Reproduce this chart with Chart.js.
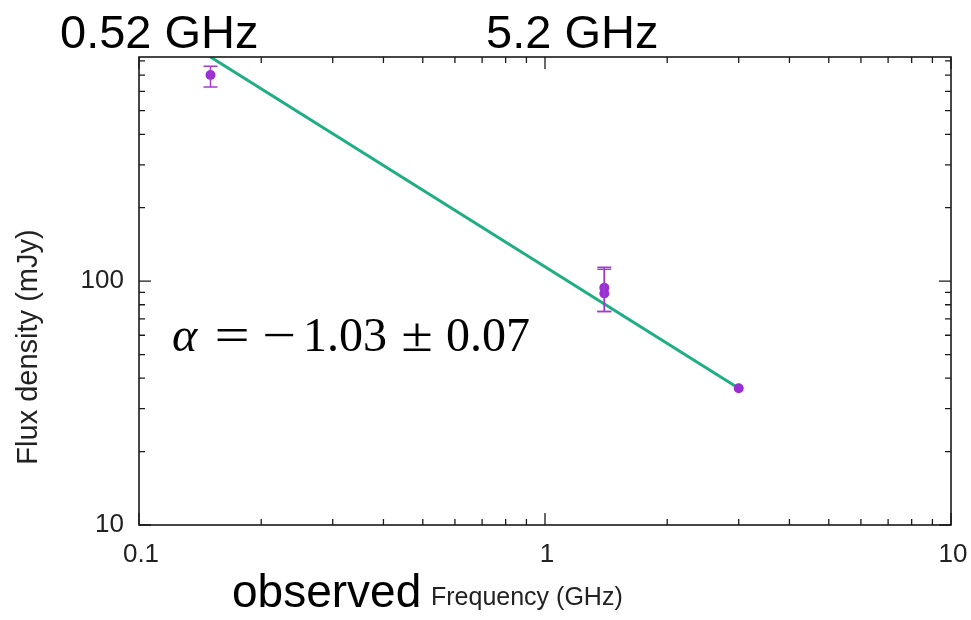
<!DOCTYPE html>
<html>
<head>
<meta charset="utf-8">
<script src="https://cdn.jsdelivr.net/npm/chart.js@4/dist/chart.umd.min.js"></script>
<style>
  html, body { margin: 0; padding: 0; background: #ffffff; }
  #wrap { width: 971px; height: 620px; position: relative; }
</style>
</head>
<body>
<div id="wrap"><canvas id="c" width="971" height="620"></canvas></div>
<script>
// Observed flux densities (GHz, mJy) with their error limits
const freqGHz  = [0.15, 1.4, 1.4, 3.0];
const fluxMJy  = [700, 94, 89, 36.4];
const fluxLow  = [625, 75, 75, 36.4];
const fluxHigh = [760, 114, 112, 36.4];

// Power-law fit, drawn between its two end points
const fitFreq = [0.15, 3.0];
const fitFlux = [830, 36.4];

// Axis ticks
const xMajor = [0.1, 1, 10];
const xMajorLabels = ['0.1', '1', '10'];
const xMinor = [0.2, 0.3, 0.4, 0.5, 0.6, 0.7, 0.8, 0.9, 2, 3, 4, 5, 6, 7, 8, 9];
const yMajor = [10, 100];
const yMajorLabels = ['10', '100'];
const yMinor = [20, 30, 40, 50, 60, 70, 80, 90, 200, 300, 400, 500, 600, 700, 800];

const purple = '#9a2fd8';
const errColor = '#a23ccf';
const green = '#1fae84';

const errorBars = {
  id: 'errorBars',
  afterDatasetsDraw(chart) {
    const { ctx, scales: { x, y } } = chart;
    ctx.save();
    ctx.strokeStyle = errColor;
    ctx.lineWidth = 1.5;
    for (let i = 0; i < freqGHz.length; i++) {
      const px = x.getPixelForValue(freqGHz[i]);
      const lo = y.getPixelForValue(fluxLow[i]);
      const hi = y.getPixelForValue(fluxHigh[i]);
      if (Math.abs(lo - hi) < 1) continue;
      ctx.beginPath();
      ctx.moveTo(px, lo); ctx.lineTo(px, hi);
      ctx.moveTo(px - 7, lo); ctx.lineTo(px + 7, lo);
      ctx.moveTo(px - 7, hi); ctx.lineTo(px + 7, hi);
      ctx.stroke();
    }
    ctx.restore();
  }
};

// wide operator glyph, centred on cx
function operator(ctx, glyph, cx, base, sx) {
  ctx.save();
  ctx.translate(cx, base);
  ctx.scale(sx, 1);
  ctx.textAlign = 'center';
  ctx.fillText(glyph, 0, 0);
  ctx.restore();
}

const frameAndText = {
  id: 'frameAndText',
  afterDraw(chart) {
    const { ctx, chartArea: a, scales: { x, y } } = chart;
    ctx.save();
    // frame
    ctx.strokeStyle = '#1a1a1a';
    ctx.lineWidth = 1.6;
    ctx.strokeRect(a.left, a.top, a.right - a.left, a.bottom - a.top);

    // inward ticks on all four sides
    ctx.lineWidth = 1.3;
    ctx.beginPath();
    const xt = (v, len) => {
      const p = x.getPixelForValue(v);
      ctx.moveTo(p, a.bottom); ctx.lineTo(p, a.bottom - len);
      ctx.moveTo(p, a.top); ctx.lineTo(p, a.top + len);
    };
    const yt = (v, len) => {
      const p = y.getPixelForValue(v);
      ctx.moveTo(a.left, p); ctx.lineTo(a.left + len, p);
      ctx.moveTo(a.right, p); ctx.lineTo(a.right - len, p);
    };
    xMajor.forEach(v => xt(v, 12));
    xMinor.forEach(v => xt(v, 6));
    yMajor.forEach(v => yt(v, 12));
    yMinor.forEach(v => yt(v, 6));
    ctx.stroke();

    // tick labels
    ctx.fillStyle = '#222';
    ctx.font = '26px "Liberation Sans", Arial, sans-serif';
    ctx.textAlign = 'center';
    ctx.textBaseline = 'alphabetic';
    xMajor.forEach((v, i) => {
      ctx.fillText(xMajorLabels[i], x.getPixelForValue(v) + 2, 562);
    });
    ctx.textAlign = 'right';
    ctx.textBaseline = 'middle';
    yMajor.forEach((v, i) => {
      ctx.fillText(yMajorLabels[i], 124, y.getPixelForValue(v));
    });

    // axis titles
    ctx.textAlign = 'left';
    ctx.textBaseline = 'alphabetic';
    ctx.font = '25px "Liberation Sans", Arial, sans-serif';
    ctx.fillText('Frequency (GHz)', 431, 605);
    ctx.save();
    ctx.translate(37, 347);
    ctx.rotate(-Math.PI / 2);
    ctx.textAlign = 'center';
    ctx.font = '29px "Liberation Sans", Arial, sans-serif';
    ctx.fillText('Flux density (mJy)', 0, 0);
    ctx.restore();

    // annotations
    ctx.fillStyle = '#000';
    ctx.font = '47px "Liberation Sans", Arial, sans-serif';
    ctx.fillText('0.52 GHz', 60, 48);
    ctx.fillText('5.2 GHz', 486, 48);
    ctx.font = '46px "Liberation Sans", Arial, sans-serif';
    ctx.fillText('observed', 232, 607);

    // spectral index, set piece by piece with math spacing
    const base = 351;
    ctx.font = 'italic 48px "Liberation Serif", "DejaVu Serif", serif';
    ctx.fillText('α', 172, base);
    ctx.font = '48px "Liberation Serif", "DejaVu Serif", serif';
    operator(ctx, '=', 232, base, 1.3);
    operator(ctx, '−', 279, base, 1.25);
    ctx.fillText('1.03', 303, base);
    operator(ctx, '±', 417, base, 1.2);
    ctx.fillText('0.07', 446, base);
    ctx.restore();
  }
};

new Chart(document.getElementById('c'), {
  type: 'scatter',
  data: {
    datasets: [
      {
        label: 'fit',
        data: fitFreq.map((f, i) => ({ x: f, y: fitFlux[i] })),
        showLine: true,
        borderColor: green,
        borderWidth: 3,
        pointRadius: 0,
        order: 2
      },
      {
        label: 'flux',
        data: freqGHz.map((f, i) => ({ x: f, y: fluxMJy[i] })),
        pointRadius: 5,
        pointBackgroundColor: purple,
        pointBorderColor: purple,
        pointBorderWidth: 0,
        order: 1
      }
    ]
  },
  options: {
    responsive: false,
    animation: false,
    events: [],
    layout: { padding: { left: 139, right: 20, top: 57, bottom: 95 } },
    plugins: { legend: { display: false }, tooltip: { enabled: false } },
    scales: {
      x: { type: 'logarithmic', min: 0.1, max: 10, display: false },
      y: { type: 'logarithmic', min: 10, max: 830, display: false }
    }
  },
  plugins: [errorBars, frameAndText]
});
</script>
</body>
</html>
